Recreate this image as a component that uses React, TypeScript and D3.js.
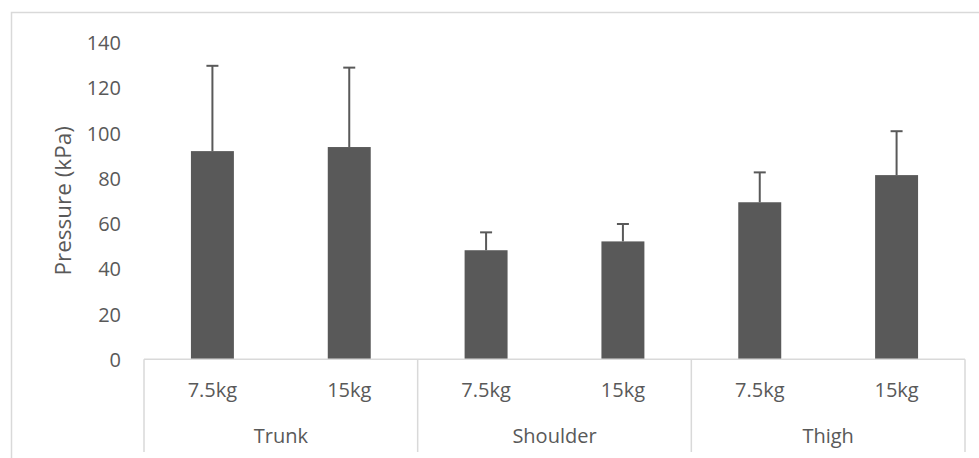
import React from "react";
import * as d3 from "d3";

const groups = ["Trunk", "Shoulder", "Thigh"];
const subLabels = ["7.5kg", "15kg"];
const means = [92.0, 93.8, 48.2, 52.1, 69.4, 81.4];
const errUpper = [37.7, 35.1, 7.9, 7.7, 13.2, 19.4];
const yTicks = [0, 20, 40, 60, 80, 100, 120, 140];
const yTitle = "Pressure (kPa)";

const W = 979;
const H = 458;
const plotLeft = 144;
const plotRight = 965;
const plotTop = 42.5;
const plotBottom = 359.3;
const textColor = "#595959";
const barColor = "#595959";
const axisColor = "#d9d9d9";
const font = "'Open Sans', sans-serif";

export default function App() {
  const items = groups.flatMap((g, gi) => subLabels.map((s, si) => ({ g, s, key: `${gi}-${si}`, i: gi * subLabels.length + si })));
  const x = d3
    .scaleBand<string>()
    .domain(items.map((d) => d.key))
    .range([plotLeft, plotRight])
    .paddingInner(0.686)
    .paddingOuter(0.343);
  const slot = d3.scaleBand<string>().domain(items.map((d) => d.key)).range([plotLeft, plotRight]);
  const y = d3.scaleLinear().domain([0, 140]).range([plotBottom, plotTop]);
  const groupWidth = (plotRight - plotLeft) / groups.length;

  return (
    <svg width={W} height={H} style={{ position: "absolute", left: 0, top: 0, background: "#fff" }}>
      <rect x={11.5} y={12.5} width={W + 10} height={H + 10} fill="none" stroke={axisColor} strokeWidth={1.5} />
      {yTicks.map((t) => (
        <text key={t} x={121} y={y(t) + 7.5} textAnchor="end" fontFamily={font} fontSize={20} fill={textColor}>
          {t}
        </text>
      ))}
      <text
        transform={`translate(70.5,${(plotTop + plotBottom) / 2}) rotate(-90)`}
        textAnchor="middle"
        fontFamily={font}
        fontSize={22.5}
        fill={textColor}
      >
        {yTitle}
      </text>
      {items.map((d) => {
        const bx = x(d.key)!;
        const bw = x.bandwidth();
        const cx = bx + bw / 2;
        const top = y(means[d.i]);
        const errTop = y(means[d.i] + errUpper[d.i]);
        return (
          <g key={d.key}>
            <rect x={bx} y={top} width={bw} height={plotBottom - top} fill={barColor} />
            <line x1={cx} x2={cx} y1={top} y2={errTop} stroke={barColor} strokeWidth={2} />
            <line x1={cx - 6} x2={cx + 6} y1={errTop} y2={errTop} stroke={barColor} strokeWidth={2} />
            <text
              x={slot(d.key)! + slot.bandwidth() / 2}
              y={396.5}
              textAnchor="middle"
              fontFamily={font}
              fontSize={20}
              fill={textColor}
            >
              {d.s}
            </text>
          </g>
        );
      })}
      <line x1={plotLeft} x2={plotRight} y1={plotBottom} y2={plotBottom} stroke={axisColor} strokeWidth={1.5} />
      {d3.range(groups.length + 1).map((k) => (
        <line
          key={k}
          x1={plotLeft + k * groupWidth}
          x2={plotLeft + k * groupWidth}
          y1={plotBottom}
          y2={452}
          stroke={axisColor}
          strokeWidth={1.5}
        />
      ))}
      {groups.map((g, gi) => (
        <text
          key={g}
          x={plotLeft + (gi + 0.5) * groupWidth}
          y={443}
          textAnchor="middle"
          fontFamily={font}
          fontSize={20}
          fill={textColor}
        >
          {g}
        </text>
      ))}
    </svg>
  );
}
